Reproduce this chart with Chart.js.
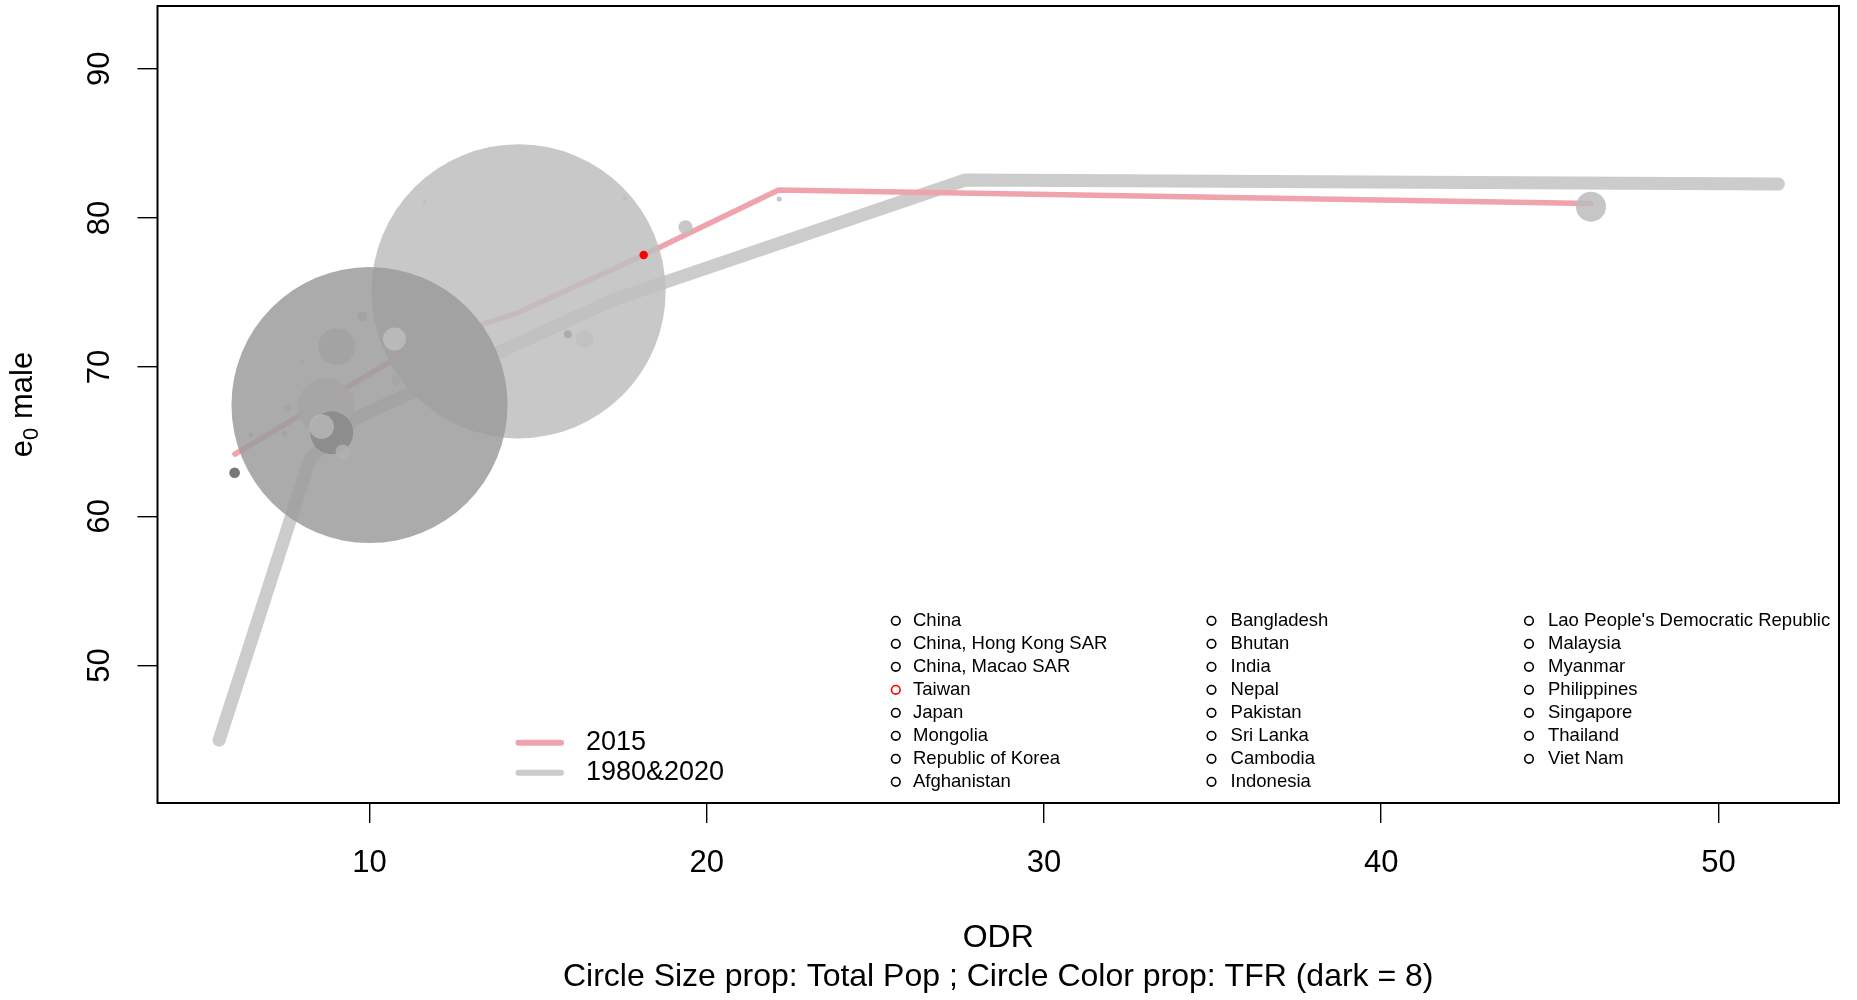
<!DOCTYPE html>
<html>
<head>
<meta charset="utf-8">
<script src="https://cdn.jsdelivr.net/npm/chart.js@4.4.1/dist/chart.umd.min.js"></script>
<style>
  html, body { margin: 0; padding: 0; background: #ffffff; }
  #wrap { width: 1857px; height: 1000px; }
</style>
</head>
<body>
<div id="wrap"><canvas id="chart" width="1857" height="1000"></canvas></div>
<script>
// ---- data ----------------------------------------------------------------
const countries = [
  'China', 'China, Hong Kong SAR', 'China, Macao SAR', 'Taiwan', 'Japan', 'Mongolia',
  'Republic of Korea', 'Afghanistan', 'Bangladesh', 'Bhutan', 'India', 'Nepal', 'Pakistan',
  'Sri Lanka', 'Cambodia', 'Indonesia', "Lao People's Democratic Republic", 'Malaysia',
  'Myanmar', 'Philippines', 'Singapore', 'Thailand', 'Viet Nam'
];
// old-age dependency ratio
const odr = [14.42, 22.15, 11.64, 18.13, 46.22, 6.48, 19.37, 6.00, 9.03, 8.01, 10.00, 10.79,
             8.88, 15.88, 7.56, 8.71, 7.48, 9.79, 9.21, 8.58, 17.58, 16.38, 10.74];
// male life expectancy at birth
const e0Male = [75.08, 81.27, 81.09, 77.51, 80.75, 65.45, 79.37, 62.92, 71.37, 70.41, 67.46, 69.13,
                65.60, 72.20, 67.24, 67.35, 65.56, 73.38, 64.33, 66.01, 81.31, 71.88, 71.88];
// total population, millions
const totalPop = [1397, 7.3, 0.6, 23.5, 127, 3.0, 50.3, 34, 161, 0.8, 1310, 28.7,
                  189, 21, 15.5, 258, 6.8, 30.3, 53, 101, 5.5, 68, 93];
// total fertility rate
const tfr = [1.73, 1.8, 1.75, 1.2, 1.79, 2.6, 1.73, 4.27, 2.49, 2.4, 2.64, 2.43,
             3.13, 2.31, 2.45, 2.37, 2.5, 2.49, 2.08, 1.95, 1.7, 1.66, 1.74];
const highlighted = 'Taiwan';

// reference paths
const path2015X = [6.01, 11.44, 14.37, 18.13, 22.13, 46.22];
const path2015Y = [64.17, 71.48, 73.62, 77.51, 81.87, 80.97];
const path19802020X = [5.54, 8.24, 9.60, 17.22, 27.67, 51.78];
const path19802020Y = [45.00, 63.90, 66.58, 74.50, 82.54, 82.27];

const xTicks = [10, 20, 30, 40, 50];
const yTicks = [50, 60, 70, 80, 90];
const xTitle = 'ODR';
const subTitle = 'Circle Size prop: Total Pop ; Circle Color prop: TFR (dark = 8)';
const yTitleParts = ['e', '0', ' male'];
const pathLabels = ['2015', '1980&2020'];

// ---- styling --------------------------------------------------------------
const FONT = '"Liberation Sans", Arial, Helvetica, sans-serif';
const PINK = '#EFA3AD';
const GREY_LINE = '#CCCCCC';
const BUBBLE_ALPHA = 0.85;

Chart.defaults.font.family = FONT;
Chart.defaults.color = '#000';

// bubble radius grows with population
const radiusOf = p => 1.8 + 0.104 * p;
// darker grey for higher fertility, black at TFR = 8
const fillOf = i => {
  if (countries[i] === highlighted) return '#FF0000';
  const g = Math.max(0, Math.round(255 * (1 - tfr[i] / (8 * BUBBLE_ALPHA))));
  return `rgba(${g},${g},${g},${BUBBLE_ALPHA})`;
};

// largest populations drawn first so small circles stay visible
const drawOrder = countries.map((_, i) => i).sort((a, b) => totalPop[b] - totalPop[a]);
const bubbles = drawOrder.map(i => ({ x: odr[i], y: e0Male[i], r: radiusOf(totalPop[i]), idx: i }));

const toPoints = (xs, ys) => xs.map((x, k) => ({ x, y: ys[k] }));

// fixed axis box sizes, no extra label padding around the plot region
const fixBox = (prop, size) => s => {
  s[prop] = size;
  s.paddingTop = s.paddingBottom = s.paddingLeft = s.paddingRight = 0;
};

// ---- extra drawing ----------------------------------------------------------
const framePlugin = {
  id: 'frame',
  afterDraw(chart) {
    const { ctx, chartArea: a } = chart;
    ctx.save();
    ctx.strokeStyle = '#000';
    ctx.lineWidth = 2;
    ctx.strokeRect(a.left, a.top, a.right - a.left, a.bottom - a.top);
    ctx.restore();
  }
};

const yTitlePlugin = {
  id: 'yTitle',
  afterDraw(chart) {
    const { ctx, chartArea: a } = chart;
    const big = `31px ${FONT}`, small = `22px ${FONT}`;
    ctx.save();
    ctx.translate(31.5, (a.top + a.bottom) / 2);
    ctx.rotate(-Math.PI / 2);
    ctx.fillStyle = '#000';
    ctx.textBaseline = 'alphabetic';
    ctx.textAlign = 'left';
    ctx.font = big;
    const w1 = ctx.measureText(yTitleParts[0]).width;
    const w3 = ctx.measureText(yTitleParts[2]).width;
    ctx.font = small;
    const w2 = ctx.measureText(yTitleParts[1]).width;
    let x = -(w1 + w2 + w3) / 2;
    ctx.font = big;   ctx.fillText(yTitleParts[0], x, 0); x += w1;
    ctx.font = small; ctx.fillText(yTitleParts[1], x, 6); x += w2;
    ctx.font = big;   ctx.fillText(yTitleParts[2], x, 0);
    ctx.restore();
  }
};

const legendPlugin = {
  id: 'keys',
  afterDraw(chart) {
    const ctx = chart.ctx;
    ctx.save();
    // path key
    const pathColors = [PINK, GREY_LINE];
    ctx.lineCap = 'round';
    ctx.font = `27px ${FONT}`;
    ctx.textBaseline = 'middle';
    ctx.textAlign = 'left';
    pathLabels.forEach((lab, k) => {
      const y = 742.7 + k * 30;
      ctx.strokeStyle = pathColors[k];
      ctx.lineWidth = 6;
      ctx.beginPath();
      ctx.moveTo(518.5, y);
      ctx.lineTo(561, y);
      ctx.stroke();
      ctx.fillStyle = '#000';
      ctx.fillText(lab, 586, y);
    });
    // country key, three columns
    const markerX = [895.8, 1211.5, 1529];
    const textX = [913, 1230.6, 1548];
    ctx.font = `18.5px ${FONT}`;
    ctx.lineWidth = 1.6;
    countries.forEach((name, i) => {
      const col = Math.floor(i / 8), row = i % 8;
      const y = 620.8 + row * 23.0;
      ctx.strokeStyle = name === highlighted ? '#FF0000' : '#000';
      ctx.beginPath();
      ctx.arc(markerX[col], y, 4.3, 0, Math.PI * 2);
      ctx.stroke();
      ctx.fillStyle = '#000';
      ctx.fillText(name, textX[col], y);
    });
    ctx.restore();
  }
};

// ---- chart -----------------------------------------------------------------
const axisGrid = { drawOnChartArea: false, drawTicks: true, tickLength: 20, color: '#000', lineWidth: 1.4 };

new Chart(document.getElementById('chart'), {
  type: 'bubble',
  data: {
    datasets: [
      {
        type: 'line', label: pathLabels[1], data: toPoints(path19802020X, path19802020Y),
        borderColor: GREY_LINE, borderWidth: 13, borderCapStyle: 'round', borderJoinStyle: 'round',
        pointRadius: 0, fill: false, tension: 0, order: 3
      },
      {
        type: 'line', label: pathLabels[0], data: toPoints(path2015X, path2015Y),
        borderColor: PINK, borderWidth: 5.5, borderCapStyle: 'round', borderJoinStyle: 'round',
        pointRadius: 0, fill: false, tension: 0, order: 2
      },
      {
        type: 'bubble', label: 'countries', data: bubbles,
        backgroundColor: c => fillOf(c.raw ? c.raw.idx : 0),
        borderWidth: 0, hoverRadius: 0, order: 1
      }
    ]
  },
  options: {
    responsive: false,
    animation: false,
    devicePixelRatio: 1,
    events: [],
    layout: { autoPadding: false, padding: { top: 6, right: 18, bottom: 0, left: 0 } },
    plugins: { legend: { display: false }, tooltip: { enabled: false } },
    scales: {
      x: {
        type: 'linear', position: 'bottom', min: 3.713, max: 53.576,
        afterBuildTicks: s => { s.ticks = xTicks.map(v => ({ value: v })); },
        afterFit: fixBox('height', 197),
        grid: axisGrid,
        border: { display: false },
        ticks: { font: { size: 31 }, color: '#000', padding: 22, maxRotation: 0, autoSkip: false },
        title: {
          display: true, text: [xTitle, subTitle], color: '#000',
          font: { size: 32, lineHeight: 39 / 32 }, padding: { top: 0, bottom: 3.5 }
        }
      },
      y: {
        type: 'linear', position: 'left', min: 40.79, max: 94.2,
        afterBuildTicks: s => { s.ticks = yTicks.map(v => ({ value: v })); },
        afterFit: fixBox('width', 157.5),
        grid: axisGrid,
        border: { display: false },
        ticks: {
          font: { size: 31 }, color: '#000', padding: 19.75,
          minRotation: 90, maxRotation: 90, crossAlign: 'center', autoSkip: false
        }
      }
    }
  },
  plugins: [framePlugin, yTitlePlugin, legendPlugin]
});
</script>
</body>
</html>
